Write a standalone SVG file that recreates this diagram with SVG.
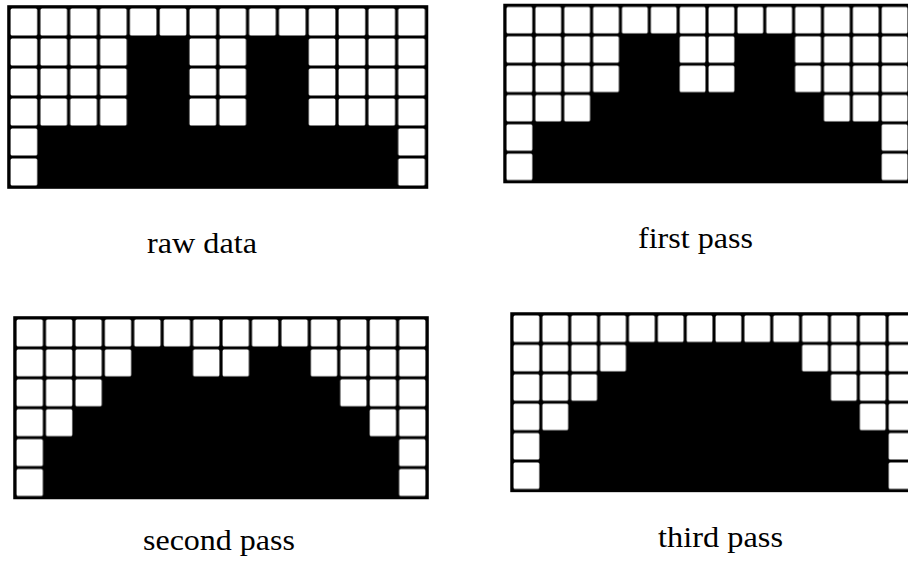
<svg xmlns="http://www.w3.org/2000/svg" width="908" height="561" viewBox="0 0 908 561">
<style>
.lbl{font-family:"Liberation Serif","Times New Roman",serif;font-size:29px;fill:#000;}
.frame{fill:#000;}
.blk{fill:#000;}
</style>
<defs>
<pattern id="cells" patternUnits="userSpaceOnUse" x="0" y="0" width="30" height="30">
<rect x="0" y="0" width="30" height="30" fill="#000"/>
<rect x="1.6" y="1.6" width="26.8" height="26.8" rx="1.5" fill="#fff"/>
</pattern>
</defs>
<rect width="908" height="561" fill="#fff"/>
<g id="raw-data" transform="translate(9,7) scale(0.994,1)">
<rect class="frame" x="-1.8" y="-1.8" width="423.6" height="183.6"/>
<rect x="0" y="0" width="420" height="180" fill="url(#cells)"/>
<polygon class="blk" points="30,180 30,120 120,120 120,30 180,30 180,120 240,120 240,30 300,30 300,120 390,120 390,180"/>
</g>
<g id="first-pass" transform="translate(505,5.5) scale(0.962,0.978)">
<rect class="frame" x="-1.8" y="-1.8" width="423.6" height="183.6"/>
<rect x="0" y="0" width="420" height="180" fill="url(#cells)"/>
<polygon class="blk" points="30,180 30,120 90,120 90,90 120,90 120,30 180,30 180,90 240,90 240,30 300,30 300,90 330,90 330,120 390,120 390,180"/>
</g>
<g id="second-pass" transform="translate(15,318) scale(0.981,0.997)">
<rect class="frame" x="-1.8" y="-1.8" width="423.6" height="183.6"/>
<rect x="0" y="0" width="420" height="180" fill="url(#cells)"/>
<polygon class="blk" points="30,180 30,120 60,120 60,90 90,90 90,60 120,60 120,30 180,30 180,60 240,60 240,30 300,30 300,60 330,60 330,90 360,90 360,120 390,120 390,180"/>
</g>
<g id="third-pass" transform="translate(512,314) scale(0.962,0.98)">
<rect class="frame" x="-1.8" y="-1.8" width="423.6" height="183.6"/>
<rect x="0" y="0" width="420" height="180" fill="url(#cells)"/>
<polygon class="blk" points="30,180 30,120 60,120 60,90 90,90 90,60 120,60 120,30 300,30 300,60 330,60 330,90 360,90 360,120 390,120 390,180"/>
</g>
<g id="labels">
<text class="lbl" x="147" y="253" textLength="110" lengthAdjust="spacingAndGlyphs">raw data</text>
<text class="lbl" x="638" y="248" textLength="115" lengthAdjust="spacingAndGlyphs">first pass</text>
<text class="lbl" x="143" y="550" textLength="152" lengthAdjust="spacingAndGlyphs">second pass</text>
<text class="lbl" x="658" y="547" textLength="125" lengthAdjust="spacingAndGlyphs">third pass</text>
</g>
</svg>
